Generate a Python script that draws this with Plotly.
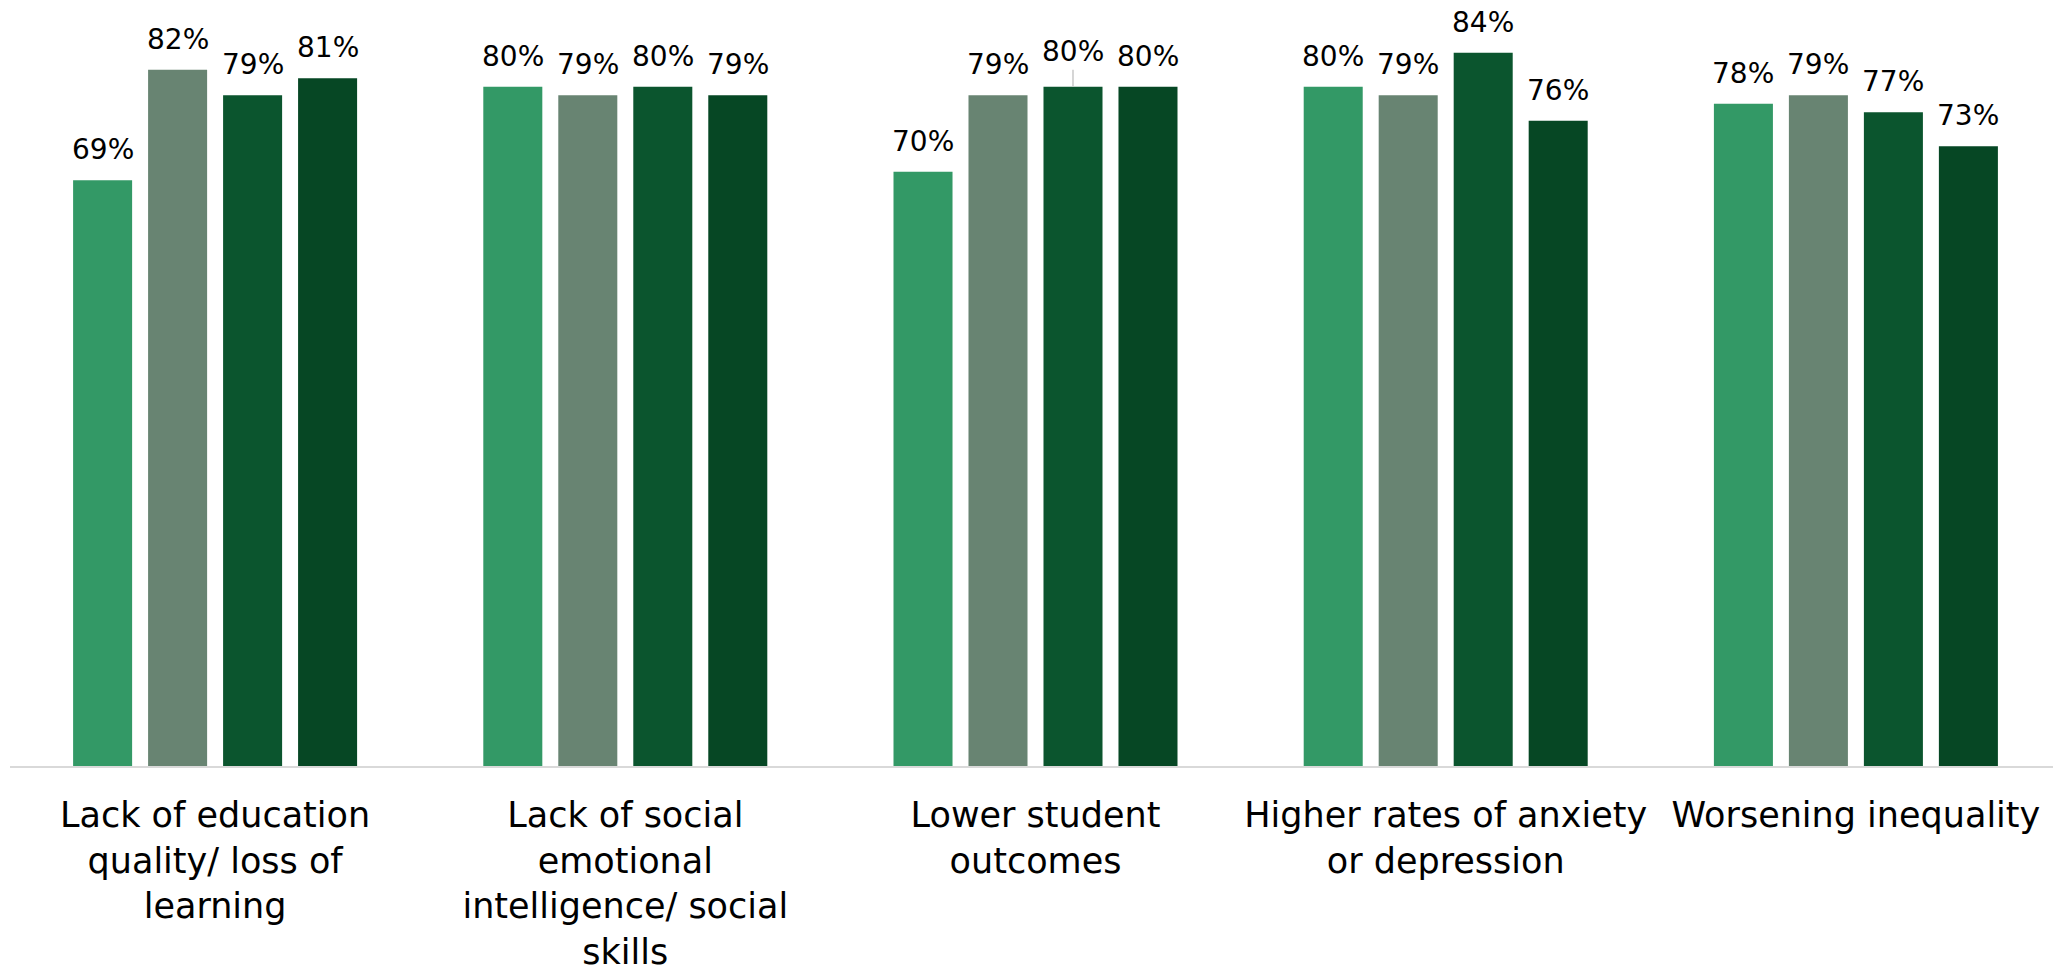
import plotly.graph_objects as go

categories = [
    "Lack of education<br>quality/ loss of<br>learning",
    "Lack of social<br>emotional<br>intelligence/ social<br>skills",
    "Lower student<br>outcomes",
    "Higher rates of anxiety<br>or depression",
    "Worsening inequality",
]
series_names = ["Series 1", "Series 2", "Series 3", "Series 4"]
series_1 = [69, 80, 70, 80, 78]
series_2 = [82, 79, 79, 79, 79]
series_3 = [79, 80, 80, 84, 77]
series_4 = [81, 79, 80, 76, 73]
colors = ["#339966", "#688472", "#0B552E", "#064724"]
# labels drawn with a leader line (series index, category index)
leader_labels = [(2, 2)]

W, H = 2053, 959
ML, MR, MT, MB = 2, 0, 0, 201
BARGAP, BARGROUPGAP = 0.2687, 0.213
FONT = "DejaVu Sans, Open Sans, sans-serif"

fig = go.Figure()
all_series = [series_1, series_2, series_3, series_4]
for name, vals, col in zip(series_names, all_series, colors):
    fig.add_trace(go.Bar(
        x=categories, y=vals, name=name,
        marker=dict(color=col, line=dict(width=0)),
        hoverinfo="x+y",
    ))

# value labels above bars, positioned through the axis scales
cat_px = (W - ML - MR) / len(categories)
slot_px = cat_px * (1 - BARGAP) / len(all_series)
for i, vals in enumerate(all_series):
    shift = (i - (len(all_series) - 1) / 2) * slot_px
    for j, (c, v) in enumerate(zip(categories, vals)):
        if (i, j) in leader_labels:
            fig.add_annotation(
                x=c, y=v, xref="x", yref="y", text=f"{v}%",
                showarrow=True, arrowhead=0, arrowwidth=1.5, arrowcolor="#c8c8c8",
                ax=0, ay=-35, xshift=shift,
                font=dict(family=FONT, size=28, color="#000000"),
            )
        else:
            fig.add_annotation(
                x=c, y=v, xref="x", yref="y", text=f"{v}%",
                showarrow=False, yanchor="bottom", xanchor="center",
                xshift=shift, yshift=12,
                font=dict(family=FONT, size=28, color="#000000"),
            )

fig.update_layout(
    width=W, height=H,
    margin=dict(l=ML, r=MR, t=MT, b=MB),
    barmode="group", bargap=BARGAP, bargroupgap=BARGROUPGAP,
    plot_bgcolor="white", paper_bgcolor="white",
    showlegend=False,
    font=dict(family=FONT, color="#000000"),
)
fig.update_xaxes(
    showline=True, linecolor="#d9d9d9", linewidth=2,
    tickfont=dict(family=FONT, size=35, color="#000000"),
    ticks="outside", ticklen=17, tickcolor="rgba(0,0,0,0)",
    showgrid=False, automargin=False,
)
fig.update_yaxes(range=[0, 89.28], visible=False, showgrid=False, automargin=False)

fig.write_html("out.html")
